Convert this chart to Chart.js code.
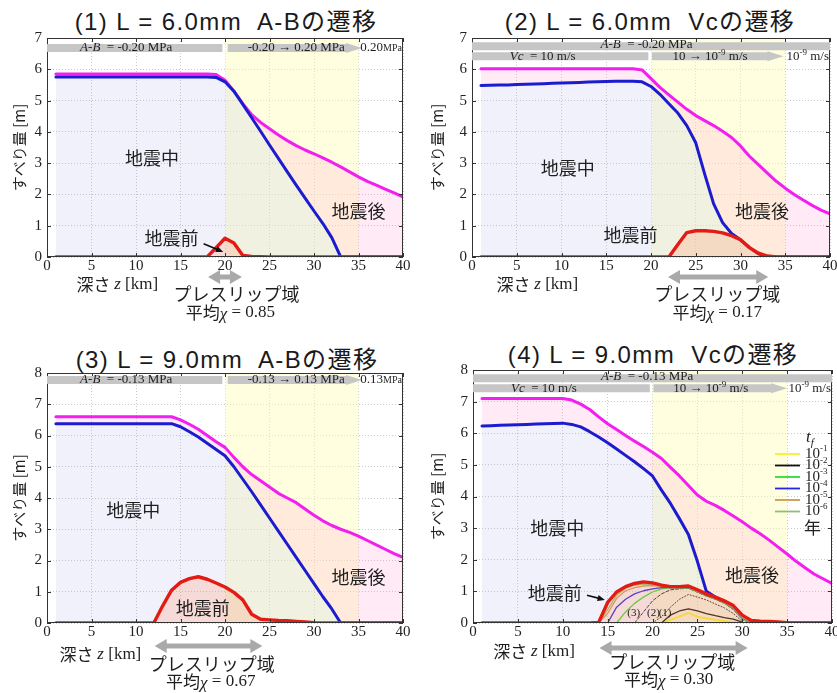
<!DOCTYPE html>
<html>
<head>
<meta charset="utf-8">
<script src="https://cdn.jsdelivr.net/npm/chart.js@4.4.1/dist/chart.umd.min.js"></script>
<style>
  body { margin: 0; background: #fff; width: 837px; height: 693px; overflow: hidden; position: relative; }
  .title { position: absolute; font-family: "Liberation Sans", "Noto Sans CJK JP", sans-serif; font-size: 24px; letter-spacing: 1.4px;
           color: #1a1a1a; white-space: pre; transform: translate(-50%, -50%); }
  canvas { position: absolute; }
</style>
</head>
<body>
<div class="title" style="left:226px;top:19px">(1) L = 6.0mm  A-Bの遷移</div>
<div class="title" style="left:650px;top:19px">(2) L = 6.0mm  Vcの遷移</div>
<div class="title" style="left:227px;top:357px">(3) L = 9.0mm  A-Bの遷移</div>
<div class="title" style="left:653px;top:352px">(4) L = 9.0mm  Vcの遷移</div>
<canvas id="c1"></canvas>
<canvas id="c2"></canvas>
<canvas id="c3"></canvas>
<canvas id="c4"></canvas>
<script>
// depth along the fault [km]
const depthKm = [1, 2, 3, 4, 5, 6, 7, 8, 9, 10, 11, 12, 13, 14, 15, 16, 17, 18, 19, 20,
                 21, 22, 23, 24, 25, 26, 27, 28, 29, 30, 31, 32, 33, 34, 35, 36, 37, 38, 39, 40];
const transitionZone = [20, 35];
const slipMax = [7, 7, 8, 8];

// (1) L = 6.0mm, A-B transition
const total1 = [5.85, 5.85, 5.85, 5.85, 5.85, 5.85, 5.85, 5.85, 5.85, 5.85, 5.85, 5.85, 5.85, 5.85, 5.85, 5.85, 5.85, 5.85, 5.83, 5.65,
                5.3, 4.9, 4.55, 4.3, 4.1, 3.9, 3.72, 3.56, 3.42, 3.3, 3.17, 3.03, 2.88, 2.72, 2.56, 2.42, 2.3, 2.17, 2.05, 1.92];
const during1 = [5.75, 5.75, 5.75, 5.75, 5.75, 5.75, 5.75, 5.75, 5.75, 5.75, 5.75, 5.75, 5.75, 5.75, 5.75, 5.75, 5.75, 5.75, 5.74, 5.6,
                 5.3, 4.88, 4.45, 4.02, 3.58, 3.15, 2.72, 2.3, 1.88, 1.47, 1.07, 0.62, 0, 0, 0, 0, 0, 0, 0, 0];
const before1 = [0, 0, 0, 0, 0, 0, 0, 0, 0, 0, 0, 0, 0, 0, 0, 0, 0, 0, 0.3, 0.6,
                 0.45, 0.05, 0.02, 0.01, 0, 0, 0, 0, 0, 0, 0, 0, 0, 0, 0, 0, 0, 0, 0, 0];

// (2) L = 6.0mm, Vc transition
const total2 = [6.02, 6.02, 6.02, 6.02, 6.02, 6.02, 6.02, 6.02, 6.02, 6.02, 6.02, 6.02, 6.02, 6.02, 6.02, 6.02, 6.02, 6.02, 5.98, 5.7,
                5.42, 5.18, 4.95, 4.72, 4.52, 4.36, 4.2, 4.02, 3.82, 3.55, 3.22, 2.95, 2.68, 2.42, 2.2, 2.0, 1.82, 1.65, 1.5, 1.38];
const during2 = [5.48, 5.49, 5.5, 5.5, 5.51, 5.52, 5.53, 5.54, 5.55, 5.56, 5.57, 5.58, 5.59, 5.6, 5.61, 5.62, 5.62, 5.62, 5.6, 5.45,
                 5.2, 4.9, 4.6, 4.2, 3.65, 2.65, 1.7, 1.1, 0.75, 0.55, 0.3, 0.1, 0, 0, 0, 0, 0, 0, 0, 0];
const before2 = [0, 0, 0, 0, 0, 0, 0, 0, 0, 0, 0, 0, 0, 0, 0, 0, 0, 0, 0, 0,
                 0, 0, 0.4, 0.78, 0.84, 0.84, 0.82, 0.77, 0.68, 0.55, 0.3, 0.12, 0.03, 0, 0, 0, 0, 0, 0, 0];

// (3) L = 9.0mm, A-B transition
const total3 = [6.6, 6.6, 6.6, 6.6, 6.6, 6.6, 6.6, 6.6, 6.6, 6.6, 6.6, 6.6, 6.6, 6.6, 6.5, 6.36, 6.2, 6.0, 5.8, 5.62,
                5.3, 5.0, 4.75, 4.55, 4.35, 4.15, 4.0, 3.85, 3.65, 3.45, 3.27, 3.12, 3.0, 2.9, 2.78, 2.64, 2.5, 2.36, 2.22, 2.1];
const during3 = [6.38, 6.38, 6.38, 6.38, 6.38, 6.38, 6.38, 6.38, 6.38, 6.38, 6.38, 6.38, 6.38, 6.38, 6.28, 6.12, 5.95, 5.75, 5.55, 5.35,
                 5.0, 4.6, 4.2, 3.78, 3.36, 2.94, 2.52, 2.1, 1.68, 1.26, 0.84, 0.45, 0, 0, 0, 0, 0, 0, 0, 0];
const before3 = [0, 0, 0, 0, 0, 0, 0, 0, 0, 0, 0, 0, 0.55, 1.05, 1.3, 1.42, 1.48, 1.4, 1.28, 1.15,
                 0.98, 0.74, 0.28, 0.12, 0.1, 0.08, 0.07, 0.05, 0.03, 0.01, 0, 0, 0, 0, 0, 0, 0, 0, 0, 0];

// (4) L = 9.0mm, Vc transition
const total4 = [7.1, 7.1, 7.1, 7.1, 7.1, 7.1, 7.1, 7.1, 7.1, 7.1, 7.05, 6.92, 6.75, 6.52, 6.3, 6.12, 5.93, 5.75, 5.58, 5.4,
                5.2, 4.92, 4.65, 4.35, 4.05, 3.85, 3.72, 3.56, 3.38, 3.2, 3.0, 2.82, 2.62, 2.4, 2.18, 1.95, 1.75, 1.55, 1.4, 1.25];
const during4 = [6.23, 6.24, 6.25, 6.26, 6.27, 6.28, 6.29, 6.3, 6.31, 6.32, 6.28, 6.2, 6.05, 5.88, 5.7, 5.5, 5.3, 5.1, 4.88, 4.65,
                 4.2, 3.78, 3.3, 2.8, 1.95, 1.0, 0.82, 0.68, 0.5, 0.2, 0.05, 0, 0, 0, 0, 0, 0, 0, 0, 0];
const before4 = [0, 0, 0, 0, 0, 0, 0, 0, 0, 0, 0, 0, 0, 0.02, 0.65, 0.98, 1.15, 1.25, 1.3, 1.27,
                 1.2, 1.15, 1.15, 1.17, 1.05, 0.92, 0.82, 0.7, 0.55, 0.25, 0.08, 0.06, 0.05, 0.03, 0.01, 0, 0, 0, 0, 0];

// (4) preslip at different times before the earthquake, t_f [years]
const tfDepth = [14, 15, 16, 17, 18, 19, 20, 21, 22, 23, 24, 25, 26, 27, 28, 29, 30, 31];
const tfLabels = ['-1', '-2', '-3', '-4', '-5', '-6'];
const tf1 = [null, null, null, null, null, null, null, 0, 0.1, 0.2, 0.32, 0.2, 0.15, 0.1, 0.06, 0.03, 0, null];
const tf2 = [null, null, null, null, null, null, null, 0, 0.25, 0.38, 0.45, 0.38, 0.3, 0.23, 0.17, 0.12, 0.03, null];
const tf3 = [null, null, 0, 0.35, 0.62, 0.82, 0.98, 1.08, 1.12, 1.1, 1.1, 0.98, 0.86, 0.76, 0.63, 0.45, 0.12, 0];
const tf4 = [null, 0, 0.5, 0.75, 0.92, 1.02, 1.08, 1.12, 1.13, 1.12, 1.12, 1.0, 0.87, 0.77, 0.65, 0.47, 0.17, 0.02];
const tf5 = [0, 0.3, 0.78, 1.02, 1.12, 1.17, 1.18, 1.16, 1.14, 1.12, 1.13, 1.0, 0.88, 0.78, 0.66, 0.48, 0.18, 0.02];
const tf6 = [0, 0.42, 0.88, 1.1, 1.2, 1.23, 1.22, 1.18, 1.15, 1.13, 1.15, 1.02, 0.9, 0.8, 0.68, 0.5, 0.2, 0.04];
const case3 = [null, null, null, null, 0, 0.35, 0.7, 0.92, 1.05, 1.08, 1.1, 0.97, 0.85, 0.75, 0.62, 0.43, 0.1, 0];
const case2 = [null, null, null, null, null, null, 0, 0.2, 0.5, 0.75, 0.9, 0.82, 0.73, 0.6, 0.48, 0.3, 0.05, null];

const SERIF = '"Liberation Serif", "DejaVu Serif", serif';
const SANS = '"Noto Sans CJK JP", "Noto Sans", sans-serif';
const RM13 = '13px ' + SERIF, IT13 = 'italic 13px ' + SERIF, RM10 = '10px ' + SERIF, RM9 = '9px ' + SERIF;
const RED = '#e41a14', BLUE = '#1c1ccf', MAGENTA = '#f21ff0';
const TF_COLORS = ['#f2f22a', '#111111', '#2fdc2f', '#2424e6', '#c99a55', '#8fbf73'];

const panels = {
  c1: {
    geom: { left: 0, top: 0, W: 418, H: 340, plotLeft: 47, plotRight: 403, plotTop: 38, plotBottom: 257 },
    bars: [[0, 19.7, 6.68, false], [20.3, 35.4, 6.68, true]],
    barText: [
      [8.9, 6.68, [['A-B', IT13], ['  = -0.20 MPa', RM13]], 'center'],
      [28, 6.68, [['-0.20 → 0.20 MPa', RM13]], 'center'],
      [40, 6.68, [['0.20', RM13], ['MPa', RM10]], 'right']
    ],
    labels: [['地震中', 11.8, 3.15], ['地震後', 35, 1.45], ['地震前', 14, 0.6]],
    pointer: [17.6, 0.42, 19.8, 0.16],
    below: { depthAt: 7.9, depthDy: 28, span: [18.1, 21.9], spanDy: 20, nameAt: 21.3, nameDy: 37, chiAt: 20.6, chiDy: 56, chi: '0.85' }
  },
  c2: {
    geom: { left: 418, top: 0, W: 427, H: 340, plotLeft: 54, plotRight: 412, plotTop: 38, plotBottom: 257 },
    bars: [[0, 40, 6.74, false], [0, 19.7, 6.42, false], [20.1, 34.8, 6.42, true]],
    barText: [
      [19.5, 6.8, [['A-B', IT13], ['  = -0.20 MPa', RM13]], 'center'],
      [7.9, 6.42, [['Vc', IT13], ['  = 10 m/s', RM13]], 'center'],
      [26.6, 6.42, [['10 → 10', RM13], ['-9', RM9, -4], [' m/s', RM13]], 'center'],
      [40, 6.42, [['10', RM13], ['-9', RM9, -4], [' m/s', RM13]], 'right']
    ],
    labels: [['地震中', 10.7, 2.85], ['地震後', 32.4, 1.45], ['地震前', 17.7, 0.7]],
    below: { depthAt: 7.3, depthDy: 28, span: [21.9, 33.1], spanDy: 20, nameAt: 27.4, nameDy: 37, chiAt: 27.4, chiDy: 56, chi: '0.17' }
  },
  c3: {
    geom: { left: 0, top: 340, W: 418, H: 353, plotLeft: 47, plotRight: 403, plotTop: 33, plotBottom: 283 },
    bars: [[0, 19.7, 7.78, false], [20.3, 35.4, 7.78, true]],
    barText: [
      [8.9, 7.78, [['A-B', IT13], ['  = -0.13 MPa', RM13]], 'center'],
      [28, 7.78, [['-0.13 → 0.13 MPa', RM13]], 'center'],
      [40, 7.78, [['0.13', RM13], ['MPa', RM10]], 'right']
    ],
    labels: [['地震中', 9.7, 3.6], ['地震後', 35, 1.47], ['地震前', 17.5, 0.48]],
    below: { depthAt: 6.0, depthDy: 32, span: [12.1, 24.2], spanDy: 23, nameAt: 18.5, nameDy: 41, chiAt: 18.4, chiDy: 59, chi: '0.67' }
  },
  c4: {
    geom: { left: 418, top: 340, W: 427, H: 353, plotLeft: 55, plotRight: 414, plotTop: 30, plotBottom: 283 },
    bars: [[0, 40, 7.74, false], [0, 19.7, 7.42, false], [20.1, 35, 7.42, true]],
    barText: [
      [19.4, 7.8, [['A-B', IT13], ['  = -0.13 MPa', RM13]], 'center'],
      [7.9, 7.42, [['Vc', IT13], ['  = 10 m/s', RM13]], 'center'],
      [26.5, 7.42, [['10 → 10', RM13], ['-9', RM9, -4], [' m/s', RM13]], 'center'],
      [40, 7.42, [['10', RM13], ['-9', RM9, -4], [' m/s', RM13]], 'right']
    ],
    labels: [['地震中', 9.4, 3.0], ['地震後', 31.1, 1.52], ['地震前', 9.1, 0.95]],
    pointer: [12.7, 0.88, 14.7, 0.73],
    tags: [['(3)', 17.9, 0.3], ['(2)', 20.1, 0.3], ['(1)', 21.4, 0.3]],
    legend: true,
    below: { depthAt: 6.8, depthDy: 29, span: [14.1, 30.6], spanDy: 25, nameAt: 22.2, nameDy: 39, chiAt: 21.8, chiDy: 57, chi: '0.30' }
  }
};

function xy(xs, ys) {
  const out = [];
  xs.forEach((x, i) => { if (ys[i] !== null) out.push({ x: x, y: ys[i] }); });
  return out;
}

function rich(ctx, parts, x, y, align) {
  let w = 0;
  parts.forEach(p => { ctx.font = p[1]; w += ctx.measureText(p[0]).width; });
  let cx = align === 'center' ? x - w / 2 : align === 'right' ? x - w : x;
  ctx.textAlign = 'left';
  ctx.textBaseline = 'middle';
  parts.forEach(p => {
    ctx.font = p[1];
    ctx.fillText(p[0], cx, y + (p[2] || 0));
    cx += ctx.measureText(p[0]).width;
  });
}

function grayBar(ctx, x1, x2, y, h, arrow) {
  ctx.beginPath();
  if (!arrow) {
    ctx.rect(x1, y - h / 2, x2 - x1, h);
  } else {
    const hw = 16;
    ctx.moveTo(x1, y - h / 2);
    ctx.lineTo(x2 - hw, y - h / 2);
    ctx.lineTo(x2 - hw, y - h / 2 - 1);
    ctx.lineTo(x2, y);
    ctx.lineTo(x2 - hw, y + h / 2 + 1);
    ctx.lineTo(x2 - hw, y + h / 2);
    ctx.lineTo(x1, y + h / 2);
    ctx.closePath();
  }
  ctx.fill();
}

function doubleArrow(ctx, x1, x2, y) {
  const h = 7, hw = 12, sh = 2.6;
  ctx.beginPath();
  ctx.moveTo(x1, y);
  ctx.lineTo(x1 + hw, y - h);
  ctx.lineTo(x1 + hw, y - sh);
  ctx.lineTo(x2 - hw, y - sh);
  ctx.lineTo(x2 - hw, y - h);
  ctx.lineTo(x2, y);
  ctx.lineTo(x2 - hw, y + h);
  ctx.lineTo(x2 - hw, y + sh);
  ctx.lineTo(x1 + hw, y + sh);
  ctx.lineTo(x1 + hw, y + h);
  ctx.closePath();
  ctx.fill();
}

const decor = {
  id: 'decor',
  beforeDatasetsDraw(chart) {
    const { ctx, chartArea: a } = chart;
    const x = chart.scales.x;
    const x1 = x.getPixelForValue(transitionZone[0]), x2 = x.getPixelForValue(transitionZone[1]);
    ctx.save();
    ctx.fillStyle = 'rgba(255,255,185,0.45)';
    ctx.fillRect(x1, a.top, x2 - x1, a.bottom - a.top);
    ctx.restore();
  },
  afterDatasetsDraw(chart) {
    const cfg = panels[chart.canvas.id];
    const { ctx, chartArea: a } = chart;
    const sx = chart.scales.x, sy = chart.scales.y;
    const px = v => sx.getPixelForValue(v), py = v => sy.getPixelForValue(v);
    ctx.save();

    // frame and inward ticks
    ctx.strokeStyle = '#333';
    ctx.lineWidth = 1;
    ctx.strokeRect(a.left + 0.5, a.top + 0.5, a.right - a.left - 1, a.bottom - a.top - 1);
    ctx.beginPath();
    sx.ticks.forEach(t => {
      const p = Math.round(px(t.value)) + 0.5;
      ctx.moveTo(p, a.bottom); ctx.lineTo(p, a.bottom - 4);
      ctx.moveTo(p, a.top); ctx.lineTo(p, a.top + 4);
    });
    sy.ticks.forEach(t => {
      const p = Math.round(py(t.value)) + 0.5;
      ctx.moveTo(a.left, p); ctx.lineTo(a.left + 4, p);
      ctx.moveTo(a.right, p); ctx.lineTo(a.right - 4, p);
    });
    ctx.stroke();

    // gray parameter bars
    ctx.fillStyle = '#c6c6c6';
    cfg.bars.forEach(b => grayBar(ctx, px(b[0]), px(b[1]), py(b[2]), 8, b[3]));
    ctx.fillStyle = '#1e1e1e';
    cfg.barText.forEach(t => rich(ctx, t[2], t[3] === 'right' ? px(t[0]) - 1 : px(t[0]), py(t[1]), t[3]));

    // region labels
    ctx.fillStyle = '#1e1e1e';
    ctx.font = '18px ' + SANS;
    ctx.textAlign = 'center';
    ctx.textBaseline = 'middle';
    cfg.labels.forEach(l => ctx.fillText(l[0], px(l[1]), py(l[2])));

    if (cfg.pointer) {
      const [x1, y1, x2, y2] = cfg.pointer;
      const ax = px(x1), ay = py(y1), bx = px(x2), by = py(y2);
      const ang = Math.atan2(by - ay, bx - ax);
      ctx.strokeStyle = '#111';
      ctx.lineWidth = 1.6;
      ctx.beginPath(); ctx.moveTo(ax, ay); ctx.lineTo(bx - 5 * Math.cos(ang), by - 5 * Math.sin(ang)); ctx.stroke();
      ctx.fillStyle = '#111';
      ctx.beginPath();
      ctx.moveTo(bx, by);
      ctx.lineTo(bx - 8 * Math.cos(ang - 0.4), by - 8 * Math.sin(ang - 0.4));
      ctx.lineTo(bx - 8 * Math.cos(ang + 0.4), by - 8 * Math.sin(ang + 0.4));
      ctx.closePath(); ctx.fill();
    }

    if (cfg.tags) {
      ctx.fillStyle = '#222';
      cfg.tags.forEach(t => rich(ctx, [[t[0], '11px ' + SERIF]], px(t[1]), py(t[2]), 'center'));
    }

    if (cfg.legend) {
      const lx = a.right - 57, tx = a.right - 27;
      ctx.fillStyle = '#222';
      rich(ctx, [['t', 'italic 17px ' + SERIF], ['f', 'italic 11px ' + SERIF, 5]], a.right - 22, a.top + 68, 'center');
      tfLabels.forEach((lab, i) => {
        const y = a.top + 84 + i * 11.5;
        ctx.strokeStyle = TF_COLORS[i];
        ctx.lineWidth = 1.8;
        ctx.beginPath(); ctx.moveTo(lx, y); ctx.lineTo(lx + 25, y); ctx.stroke();
        ctx.fillStyle = '#222';
        rich(ctx, [['10', '15px ' + SERIF], [lab, '9px ' + SERIF, -5]], tx, y, 'left');
      });
      ctx.font = '17px ' + SANS;
      ctx.textAlign = 'left';
      ctx.fillText('年', tx - 1, a.top + 158);
    }

    // annotation below the depth axis
    const bl = cfg.below;
    ctx.fillStyle = '#1e1e1e';
    rich(ctx, [['深さ ', '17px ' + SANS], ['z', 'italic 17px ' + SERIF], [' [km]', '17px ' + SERIF]], px(bl.depthAt), a.bottom + bl.depthDy, 'center');
    ctx.fillStyle = '#a9a9a9';
    doubleArrow(ctx, px(bl.span[0]), px(bl.span[1]), a.bottom + bl.spanDy);
    ctx.fillStyle = '#1e1e1e';
    rich(ctx, [['プレスリップ域', '18px ' + SANS]], px(bl.nameAt), a.bottom + bl.nameDy, 'center');
    rich(ctx, [['平均', '17px ' + SANS], ['χ', 'italic 17px ' + SERIF, 2], [' = ' + bl.chi, '17px ' + SERIF]], px(bl.chiAt), a.bottom + bl.chiDy, 'center');
    ctx.restore();
  }
};

function makeChart(id, yMax, before, during, total, extra) {
  const g = panels[id].geom;
  const canvas = document.getElementById(id);
  canvas.width = g.W;
  canvas.height = g.H;
  canvas.style.left = g.left + 'px';
  canvas.style.top = g.top + 'px';

  const datasets = [{
    data: xy(depthKm, before), borderColor: RED, borderWidth: 3.4,
    fill: 'origin', backgroundColor: 'rgba(255,150,110,0.26)'
  }];
  (extra || []).forEach(e => datasets.push({
    data: xy(tfDepth, e.values), borderColor: e.color, borderWidth: e.width || 1.3,
    borderDash: e.dash || [], fill: false
  }));
  const duringIndex = datasets.length;
  datasets.push({
    data: xy(depthKm, during), borderColor: BLUE, borderWidth: 3,
    fill: 'origin', backgroundColor: 'rgba(170,170,235,0.17)'
  });
  datasets.push({
    data: xy(depthKm, total), borderColor: MAGENTA, borderWidth: 3,
    fill: duringIndex, backgroundColor: 'rgba(255,140,200,0.18)'
  });

  const grid = { color: '#c9c9c9', drawTicks: false };
  const border = { display: false, dash: [1, 2] };
  const tickFont = { family: SERIF, size: 15 };

  new Chart(canvas, {
    type: 'line',
    data: { datasets },
    options: {
      responsive: false,
      animation: false,
      devicePixelRatio: 1,
      layout: { padding: { left: 0, top: g.plotTop, right: g.W - g.plotRight, bottom: g.H - g.plotBottom - 20 } },
      elements: {
        point: { radius: 0 },
        line: { tension: 0, borderJoinStyle: 'round', borderCapStyle: 'round' }
      },
      plugins: { legend: { display: false }, tooltip: { enabled: false } },
      scales: {
        x: {
          type: 'linear', min: 0, max: 40,
          afterFit: s => { s.height = 20; },
          ticks: { stepSize: 5, padding: 0, maxRotation: 0, color: '#222', font: tickFont },
          grid, border
        },
        y: {
          min: 0, max: yMax,
          afterFit: s => { s.width = g.plotLeft; },
          ticks: { stepSize: 1, padding: 5, color: '#222', font: tickFont },
          title: { display: true, text: 'すべり量 [m]', color: '#222', font: { family: SANS, size: 15 }, padding: { top: 10, bottom: 0 } },
          grid, border
        }
      }
    },
    plugins: [decor]
  });
}

makeChart('c1', slipMax[0], before1, during1, total1);
makeChart('c2', slipMax[1], before2, during2, total2);
makeChart('c3', slipMax[2], before3, during3, total3);
makeChart('c4', slipMax[3], before4, during4, total4, [
  { values: tf6, color: TF_COLORS[5] },
  { values: tf5, color: TF_COLORS[4] },
  { values: tf4, color: TF_COLORS[3] },
  { values: tf3, color: TF_COLORS[2] },
  { values: case3, color: '#222', dash: [3, 2], width: 1 },
  { values: case2, color: '#222', dash: [1, 2], width: 1 },
  { values: tf2, color: TF_COLORS[1] },
  { values: tf1, color: TF_COLORS[0], width: 2 }
]);
</script>
</body>
</html>
